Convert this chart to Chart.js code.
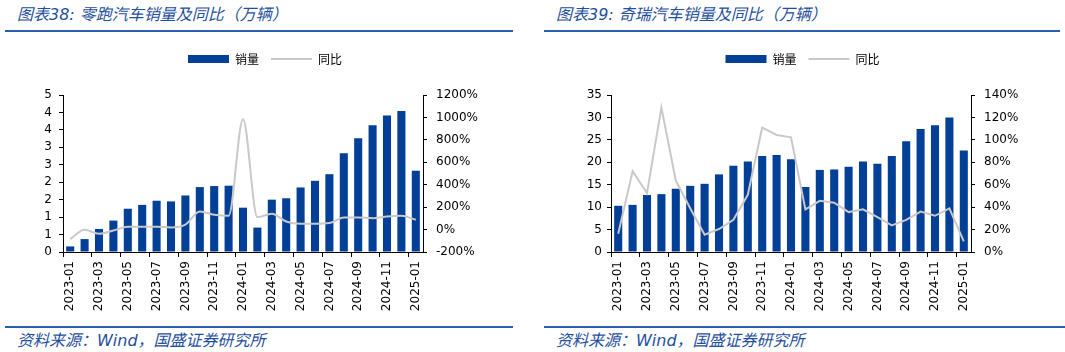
<!DOCTYPE html>
<html>
<head>
<meta charset="utf-8">
<script src="https://cdn.jsdelivr.net/npm/chart.js@4"></script>
<style>
  html, body { margin: 0; padding: 0; background: #fff; overflow: hidden; }
  body { width: 1065px; height: 352px; position: relative; font-family: "DejaVu Sans", "Noto Sans CJK SC", sans-serif; }
  .title, .source {
    position: absolute; color: #1f4f9e; font-style: italic; font-size: 16px; white-space: nowrap;
    font-family: "DejaVu Sans", "Noto Sans CJK SC", sans-serif;
  }
  .rule { position: absolute; height: 2px; background: #2a5fae; }
  .box { position: absolute; top: 40px; height: 280px; }
</style>
</head>
<body>
  <div class="title" style="left:17px; top:1px;">图表38: 零跑汽车销量及同比（万辆）</div>
  <div class="title" style="left:556px; top:1px;">图表39: 奇瑞汽车销量及同比（万辆）</div>
  <div class="rule" style="left:5px; top:30px; width:508px;"></div>
  <div class="rule" style="left:544px; top:30px; width:516px;"></div>

  <div class="box" style="left:0px; width:530px;"><canvas id="leapChart"></canvas></div>
  <div class="box" style="left:540px; width:525px;"><canvas id="cheryChart"></canvas></div>

  <div class="rule" style="left:5px; top:326px; width:508px;"></div>
  <div class="rule" style="left:544px; top:326px; width:521px;"></div>
  <div class="source" style="left:17px; top:327px;">资料来源：Wind，国盛证券研究所</div>
  <div class="source" style="left:556px; top:327px;">资料来源：Wind，国盛证券研究所</div>

<script>
const months = [
  '2023-01', '2023-02', '2023-03', '2023-04', '2023-05', '2023-06', '2023-07', '2023-08',
  '2023-09', '2023-10', '2023-11', '2023-12', '2024-01', '2024-02', '2024-03', '2024-04',
  '2024-05', '2024-06', '2024-07', '2024-08', '2024-09', '2024-10', '2024-11', '2024-12', '2025-01'
];

// 零跑: 销量 (万辆) and 同比 (%)
const leapSales = [0.16, 0.37, 0.66, 0.90, 1.24, 1.35, 1.47, 1.45, 1.62, 1.86, 1.89, 1.90,
                   1.27, 0.70, 1.50, 1.54, 1.85, 2.04, 2.23, 2.83, 3.26, 3.63, 3.91, 4.04, 2.33];
const leapYoY = [-85, -2, -37, -8, 25, 25, 25, 19, 45, 161, 132, 123,
                 983, 111, 141, 72, 52, 52, 58, 108, 108, 102, 117, 123, 87];

// 奇瑞: 销量 (万辆) and 同比 (%)
const cherySales = [10.3, 10.5, 12.7, 12.9, 14.1, 14.75, 15.2, 17.3, 19.2, 20.2, 21.4, 21.65,
                    20.7, 14.5, 18.3, 18.4, 19.0, 20.2, 19.7, 21.4, 24.7, 27.4, 28.25, 30.0, 22.6];
const cheryYoY = [16.3, 72, 52.5, 128.7, 63.7, 39, 15.4, 20.5, 28.7, 51, 111, 104.4,
                  102.3, 38, 45.6, 44, 35.6, 38, 31, 23.7, 28.7, 36, 32.3, 39, 9.4];

const BAR_BLUE = '#023f97';
const LINE_GREY = '#c9c9c9';
const AXIS = '#000000';
const tickFont = { family: 'DejaVu Sans', size: 12 };

// push the plot area down below the legend
const legendGap = {
    id: 'legendGap',
    beforeInit(chart) {
        const fit = chart.legend.fit;
        chart.legend.fit = function() {
            fit.bind(chart.legend)();
            this.height = chart.options.legendHeight;
        };
    }
};

function buildChart(canvasId, cfg) {
    return new Chart(document.getElementById(canvasId), {
        type: 'bar',
        data: {
            labels: months,
            datasets: [
                {
                    label: '销量',
                    data: cfg.sales,
                    yAxisID: 'y',
                    backgroundColor: BAR_BLUE,
                    borderWidth: 0,
                    barPercentage: 0.56,
                    categoryPercentage: 1,
                    order: 1
                },
                {
                    type: 'line',
                    label: '同比',
                    data: cfg.yoy,
                    yAxisID: 'y1',
                    borderColor: LINE_GREY,
                    backgroundColor: LINE_GREY,
                    borderWidth: 2,
                    pointRadius: 0,
                    pointStyle: 'line',
                    cubicInterpolationMode: cfg.smooth ? 'monotone' : 'default',
                    tension: 0,
                    order: 0
                }
            ]
        },
        options: {
            responsive: true,
            maintainAspectRatio: false,
            animation: false,
            legendHeight: 54,
            layout: { padding: { top: 1, bottom: 0, left: 0, right: 0 } },
            plugins: {
                tooltip: { enabled: false },
                legend: {
                    position: 'top',
                    labels: {
                        usePointStyle: true,
                        pointStyleWidth: 41,
                        boxHeight: 8,
                        padding: 12,
                        color: '#000',
                        font: { family: 'Noto Sans CJK SC', size: 12 },
                        sort: (a, b) => a.datasetIndex - b.datasetIndex,
                        generateLabels(chart) {
                            const items = Chart.defaults.plugins.legend.labels.generateLabels(chart);
                            items.forEach(item => {
                                if (item.datasetIndex === 0) {
                                    item.pointStyle = 'rect';
                                    item.lineWidth = 0;
                                } else {
                                    item.pointStyle = 'line';
                                    item.lineWidth = 2;
                                    item.strokeStyle = LINE_GREY;
                                }
                            });
                            return items;
                        }
                    }
                }
            },
            scales: {
                x: {
                    offset: true,
                    border: { color: AXIS, width: 1 },
                    grid: {
                        offset: true,
                        drawOnChartArea: false,
                        tickLength: 5,
                        color: ctx => (ctx.index % 2 === 0 ? AXIS : 'rgba(0,0,0,0)')
                    },
                    ticks: {
                        autoSkip: false,
                        maxRotation: 90,
                        minRotation: 90,
                        padding: 4,
                        color: '#000',
                        font: tickFont,
                        callback: (v, i) => (i % 2 === 0 ? months[i] : '')
                    },
                    afterFit: s => { s.height = 68; }
                },
                y: {
                    position: 'left',
                    min: cfg.leftMin,
                    max: cfg.leftMax,
                    border: { color: AXIS, width: 1 },
                    grid: { drawOnChartArea: false, tickLength: 4, color: AXIS },
                    ticks: {
                        stepSize: cfg.leftStep,
                        autoSkip: false,
                        padding: cfg.leftPad,
                        color: '#000',
                        font: tickFont,
                        callback: cfg.leftFmt
                    },
                    afterFit: s => { s.width = cfg.leftWidth; }
                },
                y1: {
                    position: 'right',
                    min: cfg.rightMin,
                    max: cfg.rightMax,
                    border: { color: AXIS, width: 1 },
                    grid: { drawOnChartArea: false, tickLength: 4, color: AXIS },
                    ticks: {
                        stepSize: cfg.rightStep,
                        autoSkip: false,
                        padding: cfg.rightPad,
                        color: '#000',
                        font: tickFont,
                        callback: v => Math.round(v) + '%'
                    },
                    afterFit: s => { s.width = cfg.rightWidth; }
                }
            }
        },
        plugins: [legendGap]
    });
}

buildChart('leapChart', {
    sales: leapSales,
    yoy: leapYoY,
    smooth: true,
    leftMin: 0, leftMax: 4.5, leftStep: 0.5,
    leftFmt: v => String(Math.round(v)),
    rightMin: -200, rightMax: 1200, rightStep: 200,
    leftWidth: 63, rightWidth: 107,
    leftPad: 7, rightPad: 9
});

buildChart('cheryChart', {
    sales: cherySales,
    yoy: cheryYoY,
    smooth: false,
    leftMin: 0, leftMax: 35, leftStep: 5,
    leftFmt: v => v,
    rightMin: 0, rightMax: 140, rightStep: 20,
    leftWidth: 71, rightWidth: 94,
    leftPad: 5, rightPad: 9
});
</script>
</body>
</html>
